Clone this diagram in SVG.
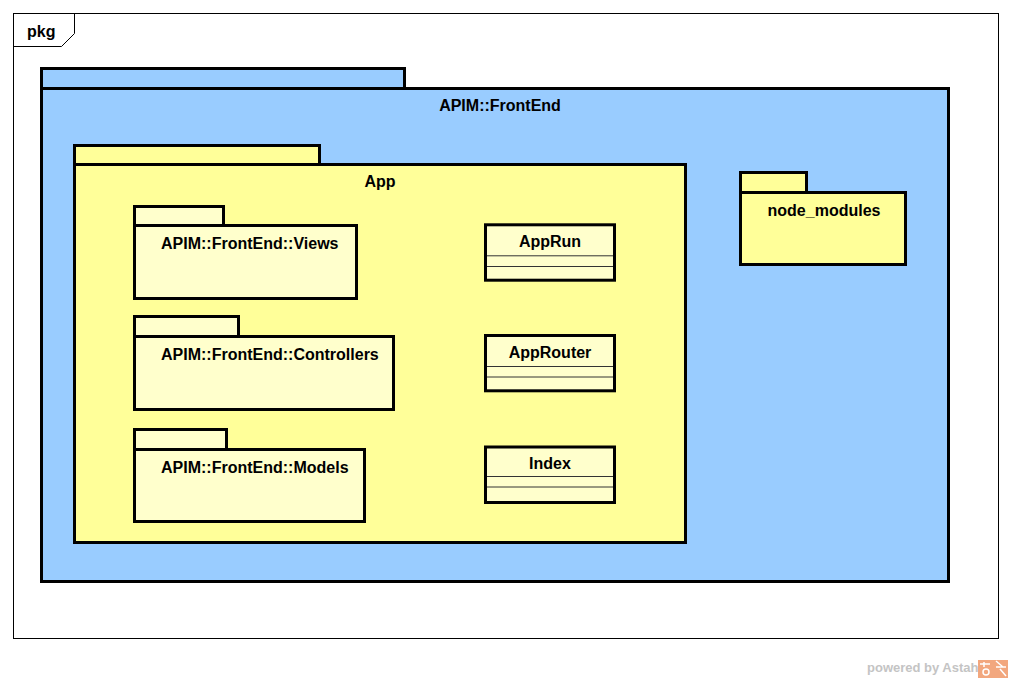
<svg xmlns="http://www.w3.org/2000/svg" width="1012" height="680" viewBox="0 0 1012 680">
  <style>
    .lbl { font-family: "Liberation Sans", Arial, sans-serif; font-weight: bold; font-size: 16px; fill: #000; }
    .mid { text-anchor: middle; }
    .pk { stroke: #000; stroke-width: 3; }
    .blue { fill: #99CCFF; }
    .yel { fill: #FFFF99; }
    .lyel { fill: #FFFFCC; }
    .sep { stroke: #333; stroke-width: 1; fill: none; }
  </style>
  <rect x="0" y="0" width="1012" height="680" fill="#fff"/>

  <!-- diagram frame -->
  <g id="frame">
    <rect x="13.5" y="13.5" width="985" height="625" fill="#fff" stroke="#000" stroke-width="1"/>
    <path d="M13.5,46.5 H61.5 L74.5,33.5 V13.5" fill="none" stroke="#000" stroke-width="1"/>
    <text class="lbl" x="27" y="37">pkg</text>
  </g>

  <!-- APIM::FrontEnd package -->
  <g id="frontend">
    <rect class="pk blue" x="41.5" y="68.5" width="363" height="20"/>
    <rect class="pk blue" x="41.5" y="88.5" width="907" height="493"/>
    <text class="lbl mid" x="500" y="110.5">APIM::FrontEnd</text>
  </g>

  <!-- App package -->
  <g id="app">
    <rect class="pk yel" x="74.5" y="145.5" width="245" height="19"/>
    <rect class="pk yel" x="74.5" y="164.5" width="611" height="378"/>
    <text class="lbl mid" x="380" y="187">App</text>
  </g>

  <g id="views">
    <rect class="pk lyel" x="134.5" y="206.5" width="89" height="19"/>
    <rect class="pk lyel" x="134.5" y="225.5" width="222" height="73"/>
    <text class="lbl" x="161" y="248.5">APIM::FrontEnd::Views</text>
  </g>

  <g id="controllers">
    <rect class="pk lyel" x="134.5" y="316.5" width="104" height="20"/>
    <rect class="pk lyel" x="134.5" y="336.5" width="259" height="73"/>
    <text class="lbl" x="161" y="360">APIM::FrontEnd::Controllers</text>
  </g>

  <g id="models">
    <rect class="pk lyel" x="134.5" y="429.5" width="92" height="20"/>
    <rect class="pk lyel" x="134.5" y="449.5" width="230" height="72"/>
    <text class="lbl" x="161" y="473">APIM::FrontEnd::Models</text>
  </g>

  <!-- classes -->
  <g id="apprun">
    <rect class="pk lyel" x="485.5" y="224.8" width="129" height="55.4"/>
    <line class="sep" x1="487" y1="255.8" x2="613" y2="255.8"/>
    <line class="sep" x1="487" y1="266.5" x2="613" y2="266.5"/>
    <text class="lbl mid" x="550" y="247">AppRun</text>
  </g>

  <g id="approuter">
    <rect class="pk lyel" x="485.5" y="335.5" width="129" height="55.3"/>
    <line class="sep" x1="487" y1="366.5" x2="613" y2="366.5"/>
    <line class="sep" x1="487" y1="377" x2="613" y2="377"/>
    <text class="lbl mid" x="550" y="357.5">AppRouter</text>
  </g>

  <g id="index">
    <rect class="pk lyel" x="485.5" y="447" width="129" height="55.5"/>
    <line class="sep" x1="487" y1="476.5" x2="613" y2="476.5"/>
    <line class="sep" x1="487" y1="487" x2="613" y2="487"/>
    <text class="lbl mid" x="550" y="468.5">Index</text>
  </g>

  <!-- node_modules package -->
  <g id="node_modules">
    <rect class="pk yel" x="740.5" y="172.5" width="66" height="20"/>
    <rect class="pk yel" x="740.5" y="192.5" width="165" height="72"/>
    <text class="lbl mid" x="824" y="216">node_modules</text>
  </g>

  <g id="connectors"></g>

  <!-- tool watermark -->
  <g id="watermark">
    <text x="867" y="672" font-family="Liberation Sans, Arial, sans-serif" font-weight="bold" font-size="13" fill="#C4C4C4">powered by Astah</text>
    <rect x="978" y="660" width="30" height="18" fill="#F2A77E"/>
    <path d="M984,662 V667 M980,664 H990 M996,661 L1003,667 M996,667 H1006 M1000,669 L1006,676" stroke="#fff" stroke-width="1.5" fill="none"/>
    <circle cx="986" cy="672" r="3" fill="none" stroke="#fff" stroke-width="1.5"/>
  </g>
</svg>
